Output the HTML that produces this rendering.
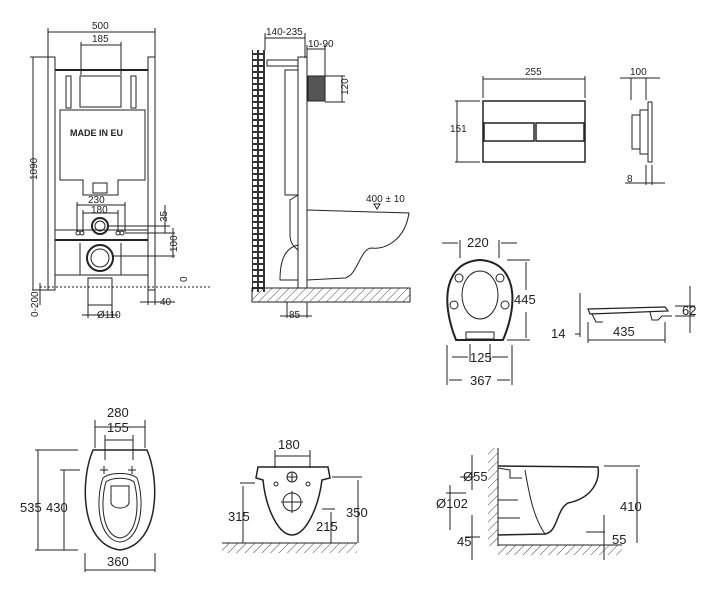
<!DOCTYPE html>
<html><head><meta charset="utf-8"><style>
html,body{margin:0;padding:0;background:#fff;}
svg{display:block;}
text{font-family:"Liberation Sans",sans-serif;fill:#222;}
</style></head><body>
<svg width="720" height="597" viewBox="0 0 720 597" xmlns="http://www.w3.org/2000/svg">
<defs>
<pattern id="hat" width="6" height="6" patternUnits="userSpaceOnUse" patternTransform="rotate(45)"><line x1="0" y1="0" x2="0" y2="6" stroke="#333" stroke-width="0.9"/></pattern>
<pattern id="tile" width="6" height="6" patternUnits="userSpaceOnUse"><rect width="6" height="6" fill="#333"/><rect x="1" y="1" width="4" height="4" fill="#fff"/></pattern>
</defs>
<g stroke="#222" fill="none" stroke-width="1">
<!-- FRAME FRONT -->
<line x1="48" y1="28" x2="48" y2="57"/><line x1="155" y1="28" x2="155" y2="57"/>
<line x1="48" y1="32" x2="155" y2="32"/>
<line x1="81" y1="42" x2="81" y2="75"/><line x1="121" y1="42" x2="121" y2="75"/>
<line x1="81" y1="45" x2="121" y2="45"/>
<rect x="48" y="57" width="7" height="233"/><rect x="148" y="57" width="7" height="233"/>
<line x1="55" y1="70" x2="148" y2="70" stroke-width="2"/>
<rect x="80" y="76" width="41" height="31"/>
<rect x="66" y="76" width="5" height="32"/><rect x="131" y="76" width="5" height="32"/>
<path d="M60 110 L145 110 L145 180 L118 180 L118 195 L83 195 L83 180 L60 180 Z"/>
<rect x="93" y="183" width="14" height="10"/>
<line x1="55" y1="230" x2="148" y2="230"/><line x1="55" y1="240" x2="148" y2="240" stroke-width="2"/>
<line x1="55" y1="275" x2="148" y2="275"/>
<line x1="80" y1="243" x2="80" y2="275"/><line x1="121" y1="243" x2="121" y2="275"/>
<circle cx="100" cy="226" r="8" stroke-width="2"/><circle cx="100" cy="226" r="5"/>
<circle cx="100" cy="258" r="13" stroke-width="2"/><circle cx="100" cy="258" r="9"/>
<circle cx="78" cy="233" r="2"/><circle cx="82" cy="233" r="2"/><circle cx="118" cy="233" r="2"/><circle cx="122" cy="233" r="2"/>
<line x1="77" y1="202" x2="77" y2="232"/><line x1="125" y1="202" x2="125" y2="232"/><line x1="77" y1="205" x2="125" y2="205"/>
<line x1="83" y1="210" x2="83" y2="232"/><line x1="118" y1="210" x2="118" y2="232"/><line x1="83" y1="213" x2="118" y2="213"/>
<line x1="108" y1="226" x2="170" y2="226"/><line x1="125" y1="233" x2="175" y2="233"/><line x1="112" y1="256" x2="175" y2="256"/>
<line x1="165" y1="205" x2="165" y2="233"/><line x1="173" y1="228" x2="173" y2="258"/>
<line x1="40" y1="287" x2="210" y2="287" stroke-dasharray="2,2"/>
<rect x="88" y="278" width="24" height="27"/>
<line x1="88" y1="305" x2="88" y2="318"/><line x1="112" y1="305" x2="112" y2="318"/><line x1="82" y1="315" x2="118" y2="315"/>
<line x1="33" y1="57" x2="33" y2="290"/><line x1="30" y1="57" x2="48" y2="57"/>
<line x1="40" y1="283" x2="40" y2="305"/><line x1="32" y1="290" x2="48" y2="290"/>
<line x1="148" y1="290" x2="148" y2="305"/><line x1="155" y1="290" x2="155" y2="305"/><line x1="140" y1="302" x2="175" y2="302"/>
<!-- SIDE VIEW -->
<rect x="252" y="50" width="13" height="242" fill="url(#tile)" stroke="none"/>
<rect x="252" y="288" width="158" height="14" fill="url(#hat)"/>
<rect x="298" y="57" width="9" height="231"/>
<rect x="267" y="60" width="31" height="6"/>
<rect x="285" y="70" width="13" height="125"/>
<rect x="308" y="76" width="17" height="25" fill="#555"/>
<path d="M307 210 L409 213 C405 240 385 250 372 248 C360 248 358 275 345 278 L307 280"/>
<path d="M298 195 L290 200 L290 235 C290 245 296 248 298 250 M298 245 C285 248 280 260 280 280 L298 280"/>
<line x1="265" y1="33" x2="265" y2="50"/><line x1="305" y1="33" x2="305" y2="58"/><line x1="265" y1="38" x2="305" y2="38"/>
<line x1="307" y1="45" x2="307" y2="57"/><line x1="325" y1="45" x2="325" y2="76"/><line x1="307" y1="49" x2="325" y2="49"/>
<line x1="325" y1="76" x2="345" y2="76"/><line x1="325" y1="102" x2="345" y2="102"/><line x1="342" y1="76" x2="342" y2="102"/>
<line x1="287" y1="302" x2="287" y2="318"/><line x1="307" y1="302" x2="307" y2="318"/><line x1="280" y1="316" x2="312" y2="316"/>
<path d="M374 204 L380 204 L377 209 Z"/>
<!-- FLUSH PLATE -->
<rect x="483" y="101" width="102" height="61" stroke-width="1.5"/>
<rect x="484" y="123" width="50" height="18" stroke-width="1.5"/><rect x="536" y="123" width="48" height="18" stroke-width="1.5"/>
<line x1="483" y1="76" x2="483" y2="98"/><line x1="585" y1="76" x2="585" y2="98"/><line x1="483" y1="79" x2="585" y2="79"/>
<line x1="455" y1="101" x2="480" y2="101"/><line x1="455" y1="162" x2="480" y2="162"/><line x1="457" y1="101" x2="457" y2="162"/>
<rect x="648" y="102" width="4" height="60"/><rect x="640" y="110" width="8" height="44"/><rect x="632" y="115" width="8" height="34"/>
<line x1="631" y1="78" x2="631" y2="100"/><line x1="646" y1="78" x2="646" y2="100"/><line x1="620" y1="78" x2="660" y2="78"/>
<line x1="646" y1="165" x2="646" y2="185"/><line x1="652" y1="165" x2="652" y2="185"/><line x1="625" y1="183" x2="665" y2="183"/>
<!-- SEAT TOP -->
<path d="M456 340 C440 300 445 262 480 260 C515 262 520 300 503 340 Z" stroke-width="2"/>
<ellipse cx="480" cy="295" rx="18" ry="24"/>
<circle cx="459" cy="278" r="4"/><circle cx="500" cy="278" r="4"/><circle cx="454" cy="305" r="4"/><circle cx="505" cy="305" r="4"/>
<rect x="466" y="332" width="28" height="7"/>
<line x1="460" y1="240" x2="460" y2="258"/><line x1="499" y1="240" x2="499" y2="258"/><line x1="442" y1="243" x2="458" y2="243"/><line x1="501" y1="243" x2="517" y2="243"/>
<line x1="507" y1="260" x2="530" y2="260"/><line x1="507" y1="340" x2="530" y2="340"/><line x1="526" y1="262" x2="526" y2="290"/><line x1="526" y1="312" x2="526" y2="338"/>
<line x1="470" y1="344" x2="470" y2="362"/><line x1="490" y1="344" x2="490" y2="362"/><line x1="452" y1="357" x2="468" y2="357"/><line x1="492" y1="357" x2="508" y2="357"/>
<line x1="447" y1="345" x2="447" y2="385"/><line x1="512" y1="345" x2="512" y2="385"/><line x1="449" y1="380" x2="462" y2="380"/><line x1="497" y1="380" x2="510" y2="380"/>
<!-- SEAT SIDE -->
<path d="M588 309 L665 307 L668 311 L590 314 Z" stroke-width="1.2"/>
<path d="M592 314 L596 322 L603 322 M650 312 L652 320 L658 320 L662 316 L672 316"/>
<line x1="580" y1="293" x2="580" y2="337"/><line x1="575" y1="334" x2="580" y2="334"/>
<line x1="588" y1="322" x2="588" y2="343"/><line x1="665" y1="322" x2="665" y2="343"/><line x1="588" y1="340" x2="665" y2="340"/>
<line x1="690" y1="286" x2="690" y2="333"/><line x1="675" y1="306" x2="695" y2="306"/><line x1="675" y1="316" x2="695" y2="316"/>
<!-- TOILET TOP -->
<path d="M93 450 L147 450 C160 480 160 545 120 550 C80 545 80 480 93 450 Z" stroke-width="1.5"/>
<path d="M103 478 C110 472 130 472 137 478 C145 500 142 540 120 542 C98 540 95 500 103 478 Z"/>
<path d="M106 482 C112 477 128 477 134 482 C140 502 138 536 120 538 C102 536 100 502 106 482 Z"/>
<path d="M111 486 L129 486 L129 502 C129 510 111 510 111 502 Z"/>
<path d="M100 470 h8 m-4 -4 v8 M128 470 h8 m-4 -4 v8"/>
<line x1="95" y1="420" x2="95" y2="448"/><line x1="145" y1="420" x2="145" y2="448"/><line x1="95" y1="427" x2="145" y2="427"/>
<line x1="105" y1="435" x2="105" y2="460"/><line x1="133" y1="435" x2="133" y2="460"/><line x1="105" y1="440" x2="133" y2="440"/>
<line x1="35" y1="450" x2="78" y2="450"/><line x1="35" y1="550" x2="78" y2="550"/><line x1="38" y1="450" x2="38" y2="550"/>
<line x1="60" y1="470" x2="80" y2="470"/><line x1="64" y1="470" x2="64" y2="550"/>
<line x1="85" y1="553" x2="85" y2="572"/><line x1="155" y1="553" x2="155" y2="572"/><line x1="85" y1="570" x2="155" y2="570"/>
<!-- FRONT VIEW -->
<path d="M258 467 L328 467 L330 478 L322 480 C318 510 305 535 292 535 C279 535 266 510 263 480 L256 478 Z" stroke-width="1.5"/>
<circle cx="292" cy="477" r="5"/><circle cx="292" cy="502" r="9"/>
<path d="M287 477 h10 M292 472 v10 M281 502 h22 M292 491 v22"/>
<circle cx="276" cy="484" r="2"/><circle cx="308" cy="484" r="2"/>
<rect x="222" y="543" width="135" height="10" fill="url(#hat)" stroke="none"/>
<line x1="222" y1="543" x2="357" y2="543"/>
<line x1="275" y1="450" x2="275" y2="468"/><line x1="310" y1="450" x2="310" y2="468"/><line x1="275" y1="456" x2="310" y2="456"/>
<line x1="240" y1="483" x2="255" y2="483"/><line x1="243" y1="486" x2="243" y2="543"/>
<line x1="322" y1="509" x2="335" y2="509"/><line x1="331" y1="512" x2="331" y2="543"/>
<line x1="332" y1="477" x2="362" y2="477"/><line x1="358" y1="480" x2="358" y2="543"/>
<!-- SIDE TOILET -->
<rect x="488" y="448" width="10" height="98" fill="url(#hat)" stroke="none"/>
<line x1="498" y1="448" x2="498" y2="546"/>
<rect x="498" y="545" width="124" height="10" fill="url(#hat)" stroke="none"/>
<line x1="498" y1="545" x2="622" y2="545"/>
<path d="M498 466 L598 467 C600 480 593 498 568 503 C556 510 558 532 545 534 L498 535" stroke-width="1.5"/>
<path d="M525 470 C530 500 535 520 545 534"/>
<path d="M498 468 L510 470 L510 478 L522 478 M498 500 L518 500 M498 518 L520 518"/>
<line x1="472" y1="455" x2="472" y2="490"/><line x1="460" y1="477" x2="474" y2="477"/>
<line x1="450" y1="485" x2="450" y2="530"/><line x1="446" y1="493" x2="466" y2="493"/>
<line x1="472" y1="515" x2="472" y2="560"/><line x1="465" y1="537" x2="480" y2="537"/>
<line x1="604" y1="466" x2="640" y2="466"/><line x1="637" y1="469" x2="637" y2="543"/>
<line x1="586" y1="532" x2="605" y2="532"/><line x1="604" y1="515" x2="604" y2="560"/>
</g>
<g font-size="10">
<text x="92" y="29">500</text><text x="92" y="42">185</text>
<text x="70" y="136" font-size="9" font-weight="bold">MADE IN EU</text>
<text x="88" y="203">230</text><text x="91" y="213">180</text>
<text x="97" y="318">Ø110</text><text x="160" y="305">40</text>
<text transform="translate(37,180) rotate(-90)">1090</text>
<text transform="translate(38,317) rotate(-90)">0-200</text>
<text transform="translate(167,222) rotate(-90)">35</text>
<text transform="translate(177,252) rotate(-90)">100</text>
<text transform="translate(187,282) rotate(-90)">0</text>
<text x="266" y="35">140-235</text><text x="308" y="47">10-90</text>
<text transform="translate(348,95) rotate(-90)">120</text>
<text x="366" y="202">400 ± 10</text><text x="289" y="318">85</text>
<text x="525" y="75">255</text><text x="450" y="132">151</text>
<text x="630" y="75">100</text><text x="627" y="182">8</text>
</g>
<g font-size="13">
<text x="467" y="247">220</text><text x="514" y="304">445</text>
<text x="470" y="362">125</text><text x="470" y="385">367</text>
<text x="551" y="338">14</text><text x="613" y="336">435</text><text x="682" y="315">62</text>
<text x="107" y="417">280</text><text x="107" y="432">155</text>
<text x="20" y="512">535</text><text x="46" y="512">430</text><text x="107" y="566">360</text>
<text x="278" y="449">180</text><text x="228" y="521">315</text><text x="316" y="531">215</text><text x="346" y="517">350</text>
<text x="463" y="481">Ø55</text><text x="436" y="508">Ø102</text><text x="457" y="546">45</text>
<text x="620" y="511">410</text><text x="612" y="544">55</text>
</g>
</svg>
</body></html>
